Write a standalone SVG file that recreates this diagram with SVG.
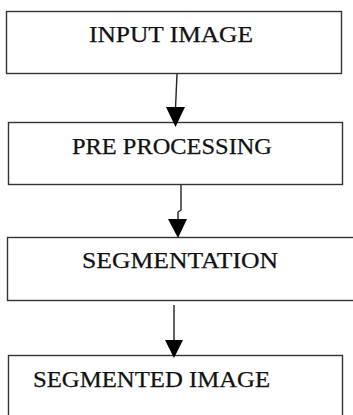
<svg xmlns="http://www.w3.org/2000/svg" width="353" height="415" viewBox="0 0 353 415">
<style>
.box{fill:#fff;stroke:#333;stroke-width:1.4}
.lbl{font-family:"Liberation Serif","Times New Roman",serif;font-size:23px;fill:#111;stroke:#111;stroke-width:0.25}
.edge{fill:none;stroke:#222;stroke-width:1.4}
.head{fill:#000}
</style>
<rect width="353" height="415" fill="#fff"/>
<g id="n1"><rect class="box" x="6.5" y="11.5" width="335" height="62"/><text class="lbl" x="89" y="42" textLength="164" lengthAdjust="spacingAndGlyphs">INPUT IMAGE</text></g>
<g id="n2"><rect class="box" x="8.5" y="122.5" width="334" height="62"/><text class="lbl" x="72" y="154" textLength="200" lengthAdjust="spacingAndGlyphs">PRE PROCESSING</text></g>
<g id="n3"><rect class="box" x="7.5" y="237.5" width="350" height="63"/><text class="lbl" x="82" y="268" textLength="196" lengthAdjust="spacingAndGlyphs">SEGMENTATION</text></g>
<g id="n4"><rect class="box" x="8.5" y="355.5" width="334" height="70"/><text class="lbl" x="33" y="387" textLength="237" lengthAdjust="spacingAndGlyphs">SEGMENTED IMAGE</text></g>
<g id="connectors">
<path class="edge" d="M177 74 L175.5 108"/>
<polygon class="head" points="166,107 185,107 175.5,127"/>
<path class="edge" d="M181 185 L181 210 L178 212 L178 220"/>
<polygon class="head" points="168,219 187,219 178,238"/>
<path class="edge" d="M174 305 L174 341"/>
<polygon class="head" points="165,340 183,340 174,358"/>
</g>
</svg>
